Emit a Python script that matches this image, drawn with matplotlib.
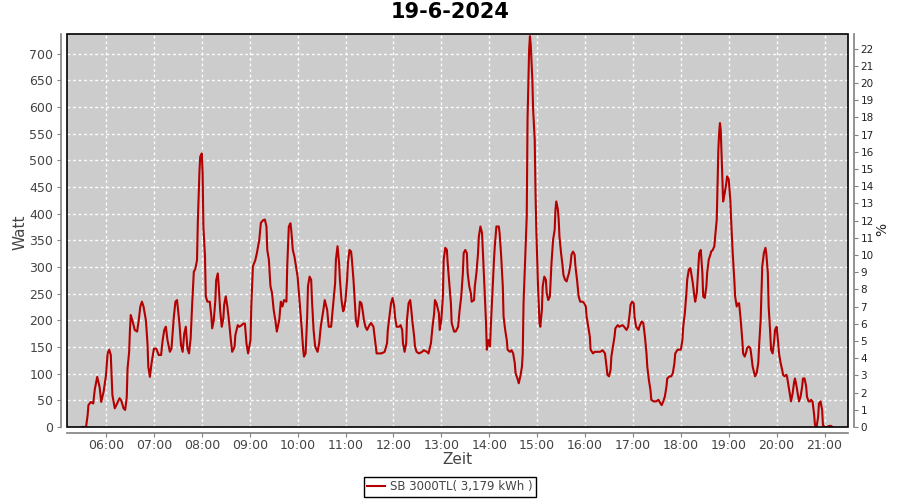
import pandas as pd
import matplotlib
matplotlib.use('Agg')
import matplotlib.pyplot as plt
import matplotlib.dates as mdates
from matplotlib.patches import Rectangle

title = '19-6-2024'
series_name = 'SB 3000TL( 3,179 kWh )'

times = [
    '05:30', '05:35', '05:37', '05:38', '05:41', '05:44', '05:46', '05:49', '05:52', '05:54', '05:57',
    '06:00', '06:02', '06:04', '06:06', '06:08', '06:11', '06:13', '06:17', '06:19', '06:22', '06:24',
    '06:26', '06:27', '06:29', '06:30', '06:31', '06:33', '06:36', '06:39', '06:41', '06:43', '06:45',
    '06:47', '06:50', '06:52', '06:53', '06:55', '06:57', '07:00', '07:03', '07:06', '07:09', '07:11',
    '07:13', '07:15', '07:17', '07:20', '07:22', '07:25', '07:27', '07:29', '07:32', '07:34', '07:36',
    '07:38', '07:40', '07:42', '07:44', '07:46', '07:48', '07:50', '07:52', '07:54', '07:55', '07:57',
    '07:58', '08:00', '08:01', '08:02', '08:04', '08:05', '08:07', '08:10', '08:12', '08:13', '08:15',
    '08:17', '08:18', '08:20', '08:21', '08:23', '08:25', '08:27', '08:28', '08:30', '08:32', '08:34',
    '08:36', '08:38', '08:41', '08:42', '08:45', '08:47', '08:50', '08:52', '08:54', '08:56', '08:58',
    '09:01', '09:02', '09:04', '09:07', '09:09', '09:12', '09:14', '09:17',
    '09:19', '09:21', '09:22', '09:24', '09:26', '09:28', '09:30', '09:32', '09:34', '09:37', '09:39',
    '09:41', '09:43', '09:46', '09:47', '09:49', '09:51', '09:52', '09:54', '09:56', '09:58', '10:00',
    '10:02', '10:03', '10:05', '10:07', '10:08', '10:10', '10:12', '10:13', '10:15', '10:17', '10:18',
    '10:20', '10:22', '10:25', '10:27', '10:29', '10:32', '10:34', '10:37', '10:39', '10:42', '10:44',
    '10:47', '10:48', '10:50', '10:52', '10:53', '10:55', '10:57', '10:58', '11:00', '11:02', '11:03',
    '11:05', '11:07', '11:08', '11:10', '11:12', '11:13', '11:15', '11:17', '11:18', '11:20', '11:22',
    '11:23', '11:25', '11:27', '11:30', '11:32', '11:35', '11:37', '11:39', '11:42', '11:45', '11:49',
    '11:52', '11:53', '11:55', '11:57', '11:59', '12:01', '12:02', '12:04', '12:07', '12:09', '12:11',
    '12:12', '12:14', '12:16', '12:17', '12:19', '12:21', '12:22', '12:24', '12:26', '12:27', '12:29',
    '12:32', '12:36', '12:38', '12:42', '12:44', '12:47', '12:49', '12:51', '12:52', '12:54', '12:57',
    '12:58', '13:00', '13:02', '13:03', '13:05', '13:07', '13:08', '13:10', '13:12', '13:13', '13:16',
    '13:18', '13:21', '13:23',
    '13:25', '13:27', '13:28', '13:30', '13:32', '13:33', '13:35', '13:37', '13:38', '13:41', '13:42',
    '13:44', '13:46', '13:47', '13:49', '13:51', '13:52', '13:54', '13:56', '13:57', '13:59', '14:01',
    '14:02', '14:04', '14:06', '14:07', '14:09', '14:12', '14:13', '14:15', '14:17', '14:18', '14:20',
    '14:22', '14:23', '14:26', '14:28', '14:30', '14:32', '14:33', '14:36', '14:37', '14:39', '14:41',
    '14:42', '14:43', '14:45', '14:47', '14:48', '14:50', '14:51', '14:52', '14:54', '14:55', '14:57',
    '14:58', '14:59', '15:00', '15:01', '15:02', '15:03', '15:04', '15:06', '15:07', '15:09', '15:11',
    '15:12', '15:14', '15:16', '15:17', '15:18', '15:20', '15:22', '15:23', '15:24', '15:26', '15:27',
    '15:28', '15:30', '15:32', '15:33', '15:35', '15:37', '15:38', '15:40', '15:42', '15:43', '15:45',
    '15:47', '15:48', '15:50', '15:52', '15:54', '15:57', '15:59', '16:01', '16:02', '16:04', '16:06',
    '16:07', '16:10', '16:12', '16:16', '16:19', '16:22', '16:25', '16:27', '16:28', '16:30', '16:32',
    '16:33', '16:35', '16:37', '16:38', '16:41', '16:43', '16:47', '16:49', '16:52', '16:54', '16:56',
    '16:57', '16:59', '17:01', '17:02', '17:04', '17:07', '17:08', '17:11', '17:13', '17:15', '17:17',
    '17:18', '17:20', '17:22', '17:23', '17:26', '17:29', '17:32', '17:33', '17:36', '17:38', '17:40',
    '17:42', '17:43', '17:46', '17:48', '17:50', '17:52', '17:53', '17:56', '17:58',
    '18:00', '18:02', '18:03', '18:05', '18:07', '18:08', '18:10', '18:12', '18:13', '18:15', '18:17',
    '18:18', '18:20', '18:22', '18:23', '18:25', '18:27', '18:28', '18:30', '18:32', '18:33', '18:35',
    '18:37', '18:38', '18:40', '18:42', '18:43', '18:45', '18:46', '18:47', '18:48', '18:49', '18:50',
    '18:51', '18:52', '18:53', '18:55', '18:57', '18:58', '19:00', '19:02', '19:03', '19:05', '19:07',
    '19:08', '19:10', '19:12', '19:13', '19:15', '19:17', '19:18', '19:20', '19:22', '19:23', '19:25',
    '19:27', '19:28', '19:30', '19:32', '19:33', '19:35', '19:37', '19:38', '19:40', '19:41', '19:42',
    '19:44', '19:46', '19:47', '19:49', '19:50', '19:52', '19:53', '19:55', '19:57', '19:58', '20:00',
    '20:02', '20:03', '20:05', '20:07', '20:08', '20:10', '20:12', '20:13', '20:15', '20:17', '20:18',
    '20:20', '20:22', '20:23', '20:25', '20:27', '20:28', '20:30', '20:32', '20:33', '20:35', '20:37',
    '20:38', '20:40', '20:42', '20:43', '20:45', '20:47', '20:48', '20:50', '20:52', '20:53', '20:55',
    '20:57', '20:58', '21:00', '21:03', '21:06', '21:08', '21:10',
]

watt = [
    0, 0, 22, 41, 47, 44, 71, 94, 75, 47, 66,
    97, 138, 145, 135, 60, 35, 41, 54, 50, 35, 32,
    56, 110, 141, 182, 210, 200, 182, 179, 200, 226, 235,
    226, 200, 156, 113, 94, 119, 147, 147, 135, 135, 163,
    182, 188, 163, 141, 147, 207, 235, 238, 194, 153, 141,
    175, 188, 147, 138, 166, 232, 291, 297, 313, 383, 477,
    507, 513, 477, 376, 320, 245, 235, 235, 207, 185, 200,
    238, 275, 288, 269, 219, 188, 204, 229, 245, 226, 200,
    169, 141, 150, 172, 191, 188, 191, 194, 194, 156, 138,
    163, 226, 301, 313, 326, 351, 383, 388,
    389, 376, 332, 314, 264, 251, 220, 201, 179, 201, 235,
    226, 238, 235, 301, 376, 382, 370, 332, 320, 301, 282,
    245, 226, 188, 145, 132, 138, 207, 264, 282, 276, 238,
    182, 151, 141, 157, 188, 217, 238, 220, 188, 188, 220,
    270, 314, 339, 307, 276, 238, 217, 220, 238, 276, 307,
    332, 329, 314, 276, 226, 201, 188, 213, 235, 232, 213,
    201, 188, 182, 191, 195, 188, 163, 138, 138, 138, 141,
    157, 182, 207, 232, 242, 226, 207, 188, 188, 191, 182,
    157, 141, 157, 201, 232, 238, 226, 195, 170, 151, 141,
    138, 141, 144, 141, 138, 157, 188, 213, 238, 232, 213,
    182, 201, 245, 314, 336, 332, 307, 270, 232, 195, 179,
    179, 188, 220,
    245, 289, 326, 332, 326, 289, 264, 251, 235, 238, 264,
    289, 326, 357, 376, 364, 332, 264, 195, 145, 163, 151,
    188, 251, 314, 339, 376, 376, 364, 320, 264, 207, 182,
    163, 145, 141, 144, 138, 120, 101, 88, 82, 95, 113,
    138, 232, 314, 395, 577, 708, 733, 717, 652, 595, 539,
    439, 370, 320, 270, 232, 195, 188, 220, 264, 282, 276,
    251, 238, 245, 276, 307, 351, 370, 408, 423, 408, 389,
    357, 326, 301, 285, 276, 273, 279, 289, 307, 323, 329,
    323, 301, 276, 245, 235, 235, 232, 226, 207, 188, 170,
    145, 138, 141, 141, 141, 144, 138, 113, 98, 95, 107,
    132, 151, 170, 185, 191, 188, 191, 188, 182, 188, 213,
    229, 235, 232, 207, 188, 182, 188, 198, 195, 170, 138,
    113, 88, 69, 51, 48, 48, 51, 48, 41, 48, 57,
    76, 91, 95, 95, 101, 120, 138, 145, 145,
    145, 163, 188, 213, 251, 276, 295, 298, 289, 270, 245,
    235, 251, 301, 326, 332, 289, 245, 242, 264, 289, 314,
    323, 329, 332, 339, 357, 389, 458, 520, 551, 570, 557,
    514, 476, 423, 439, 458, 470, 464, 426, 389, 326, 276,
    245, 226, 232, 232, 201, 163, 138, 132, 141, 148, 151,
    148, 138, 113, 101, 95, 101, 120, 151, 201, 251, 301,
    326, 336, 326, 289, 226, 176, 145, 138, 163, 182, 188,
    157, 138, 120, 107, 98, 95, 98, 95, 76, 57, 48,
    63, 85, 91, 76, 57, 48, 57, 76, 91, 91, 76,
    57, 48, 48, 51, 48, 23, 4, 0, 19, 44, 48,
    32, 4, 0, 0, 2, 2, 0,
]

x = pd.to_datetime(['2024-06-19 ' + t for t in times])
day = pd.Timestamp('2024-06-19')

W, H = 900, 500
fig = plt.figure(figsize=(9, 5), dpi=100)
ax = fig.add_axes([67 / W, 73 / H, 781 / W, 393 / H])
ax.set_facecolor('#cccccc')

ax.plot(x, watt, color='#b40000', linewidth=1.5, label=series_name)

ax.set_xlim(day + pd.Timedelta(hours=5.186), day + pd.Timedelta(hours=21.49))
ax.set_ylim(0, 737)
ax.set_yticks(range(0, 701, 50))
ax.xaxis.set_major_locator(mdates.HourLocator(byhour=range(6, 22)))
ax.xaxis.set_major_formatter(mdates.DateFormatter('%H:%M'))

ax.grid(True, color='white', linestyle=(0, (2, 2)), linewidth=1)

# axis lines a bit away from the plot area, like JFreeChart
for side in ['left', 'bottom']:
    ax.spines[side].set_position(('outward', 4))
    ax.spines[side].set_color('#808080')
    ax.spines[side].set_linewidth(1.2)
ax.spines['top'].set_visible(False)
ax.spines['right'].set_visible(False)
ax.add_patch(Rectangle((0, 0), 1, 1, transform=ax.transAxes, fill=False,
                       edgecolor='black', linewidth=1.2, clip_on=False, zorder=5))
ax.tick_params(axis='y', colors='#808080', labelcolor='#444444', labelsize=9, length=3, pad=3)
ax.tick_params(axis='x', colors='#808080', labelcolor='#444444', labelsize=9, length=3, pad=1.5)

ax2 = ax.twinx()
ax2.set_ylim(0, 22.85)
ax2.set_yticks(range(0, 23))
for side in ['left', 'bottom', 'top']:
    ax2.spines[side].set_visible(False)
ax2.spines['right'].set_position(('outward', 4))
ax2.spines['right'].set_color('#808080')
ax2.spines['right'].set_linewidth(1.2)
ax2.tick_params(axis='y', colors='#808080', labelcolor='#222222', labelsize=7.5, length=3, pad=2)

fig.text(20 / W, 1 - 232 / H, 'Watt', rotation=90, ha='center', va='center',
         fontsize=11, color='#444444')
fig.text(457 / W, 1 - 460 / H, 'Zeit', ha='center', va='center', fontsize=11, color='#444444')
fig.text(882 / W, 1 - 229 / H, '%', rotation=90, ha='center', va='center',
         fontsize=10, color='#222222')
fig.text(0.5, 1 - 12.5 / H, title, ha='center', va='center', fontsize=15, fontweight='bold')

leg = ax.legend(loc='lower center', bbox_to_anchor=(0.5, 3 / H), bbox_transform=fig.transFigure,
                fancybox=False, framealpha=1, edgecolor='black', fontsize=8.5, borderaxespad=0,
                handlelength=1.5, borderpad=0.3, handletextpad=0.4)
leg.get_frame().set_linewidth(1)
for t in leg.get_texts():
    t.set_color('#444444')

fig.savefig('out.png', dpi=100)
